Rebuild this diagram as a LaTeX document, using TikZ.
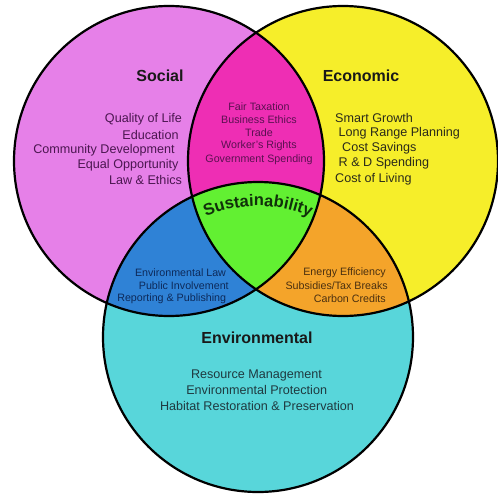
\documentclass[tikz,border=0pt]{standalone}
\usepackage{fontspec}
\setmainfont{Liberation Sans}
\usetikzlibrary{decorations.text}
\definecolor{socialc}{HTML}{E680E8}
\definecolor{econc}{HTML}{F6EE2A}
\definecolor{envc}{HTML}{58D6DA}
\definecolor{secc}{HTML}{EE2EB4}
\definecolor{svc}{HTML}{2F82D6}
\definecolor{evc}{HTML}{F4A42A}
\definecolor{allc}{HTML}{62F032}
\definecolor{tsoc}{HTML}{4B1650}
\definecolor{teco}{HTML}{2A2A1A}
\definecolor{tsec}{HTML}{5A1050}
\definecolor{tsv}{HTML}{0D2A5A}
\definecolor{tev}{HTML}{4A3010}
\definecolor{tenv}{HTML}{1F3A40}
\definecolor{tsus}{HTML}{10300A}
\begin{document}
\begin{tikzpicture}[x=1pt,y=1pt,
  ring/.style={draw=black,line width=2.2pt},
  title/.style={inner sep=0pt,font=\fontsize{16}{18}\selectfont\bfseries,text=black!90},
  item/.style={inner sep=0pt,font=\fontsize{12.6}{15}\selectfont},
  small/.style={inner sep=0pt,font=\fontsize{10.7}{13}\selectfont}]
\useasboundingbox (0,0) rectangle (498,-493);
\fill[white] (0,0) rectangle (498,-493);
\coordinate (S) at (169,-161);
\coordinate (E) at (343,-161);
\coordinate (V) at (258,-337);
\def\R{155}
% base fills
\fill[socialc] (S) circle[radius=\R];
\fill[econc] (E) circle[radius=\R];
\fill[envc] (V) circle[radius=\R];
% pairwise intersections
\begin{scope}
  \clip (S) circle[radius=\R];
  \fill[secc] (E) circle[radius=\R];
  \fill[svc] (V) circle[radius=\R];
\end{scope}
\begin{scope}
  \clip (E) circle[radius=\R];
  \fill[evc] (V) circle[radius=\R];
\end{scope}
\begin{scope}
  \clip (S) circle[radius=\R];
  \clip (E) circle[radius=\R];
  \fill[allc] (V) circle[radius=\R];
\end{scope}
% outlines
\draw[ring] (S) circle[radius=\R];
\draw[ring] (E) circle[radius=\R];
\draw[ring] (V) circle[radius=\R];
% titles
\node[title] (tS) at (160,-76) {Social};
\node[title] (tE) at (361,-76) {Economic};
\node[title] (tV) at (257,-338) {Environmental};
% social items
\node[item,text=tsoc] (s1) at (143.5,-119) {Quality of Life};
\node[item,text=tsoc] (s2) at (150.5,-134.5) {Education};
\node[item,text=tsoc] (s3) at (104,-150) {Community Development};
\node[item,text=tsoc] (s4) at (128,-165) {Equal Opportunity};
\node[item,text=tsoc] (s5) at (145.5,-180) {Law \& Ethics};
% economic items
\node[item,text=teco,anchor=west] (e1) at (335,-117.5) {Smart Growth};
\node[item,text=teco,anchor=west] (e2) at (338.5,-133) {Long Range Planning};
\node[item,text=teco,anchor=west] (e3) at (342,-148) {Cost Savings};
\node[item,text=teco,anchor=west] (e4) at (338.5,-163.5) {R \& D Spending};
\node[item,text=teco,anchor=west] (e5) at (335,-179) {Cost of Living};
% social-economic
\node[small,text=tsec] (se1) at (259,-106.5) {Fair Taxation};
\node[small,text=tsec] (se2) at (259,-120) {Business Ethics};
\node[small,text=tsec] (se3) at (259,-133) {Trade};
\node[small,text=tsec] (se4) at (259,-146) {Worker's Rights};
\node[small,text=tsec] (se5) at (259,-159.3) {Government Spending};
% social-environmental
\node[small,text=tsv] (sv1) at (180.5,-272.5) {Environmental Law};
\node[small,text=tsv] (sv2) at (183.8,-285.7) {Public Involvement};
\node[small,text=tsv] (sv3) at (171.7,-299) {Reporting \& Publishing};
% economic-environmental
\node[small,text=tev,anchor=east] (ev1) at (386,-273) {Energy Efficiency};
\node[small,text=tev,anchor=east] (ev2) at (388,-285.7) {Subsidies/Tax Breaks};
\node[small,text=tev,anchor=east] (ev3) at (386,-299) {Carbon Credits};
% environmental items
\node[item,text=tenv] (v1) at (256.5,-375) {Resource Management};
\node[item,text=tenv] (v2) at (256.7,-390) {Environmental Protection};
\node[item,text=tenv] (v3) at (257,-405.5) {Habitat Restoration \& Preservation};
% sustainability arc text
\path[decorate,decoration={text along path,text align=center,
  text={|\fontsize{16.5}{18}\selectfont\bfseries\color{tsus}|Sustainability}}]
  (V) ++(124:131) arc[start angle=124,end angle=56,radius=131];
\end{tikzpicture}
\end{document}
